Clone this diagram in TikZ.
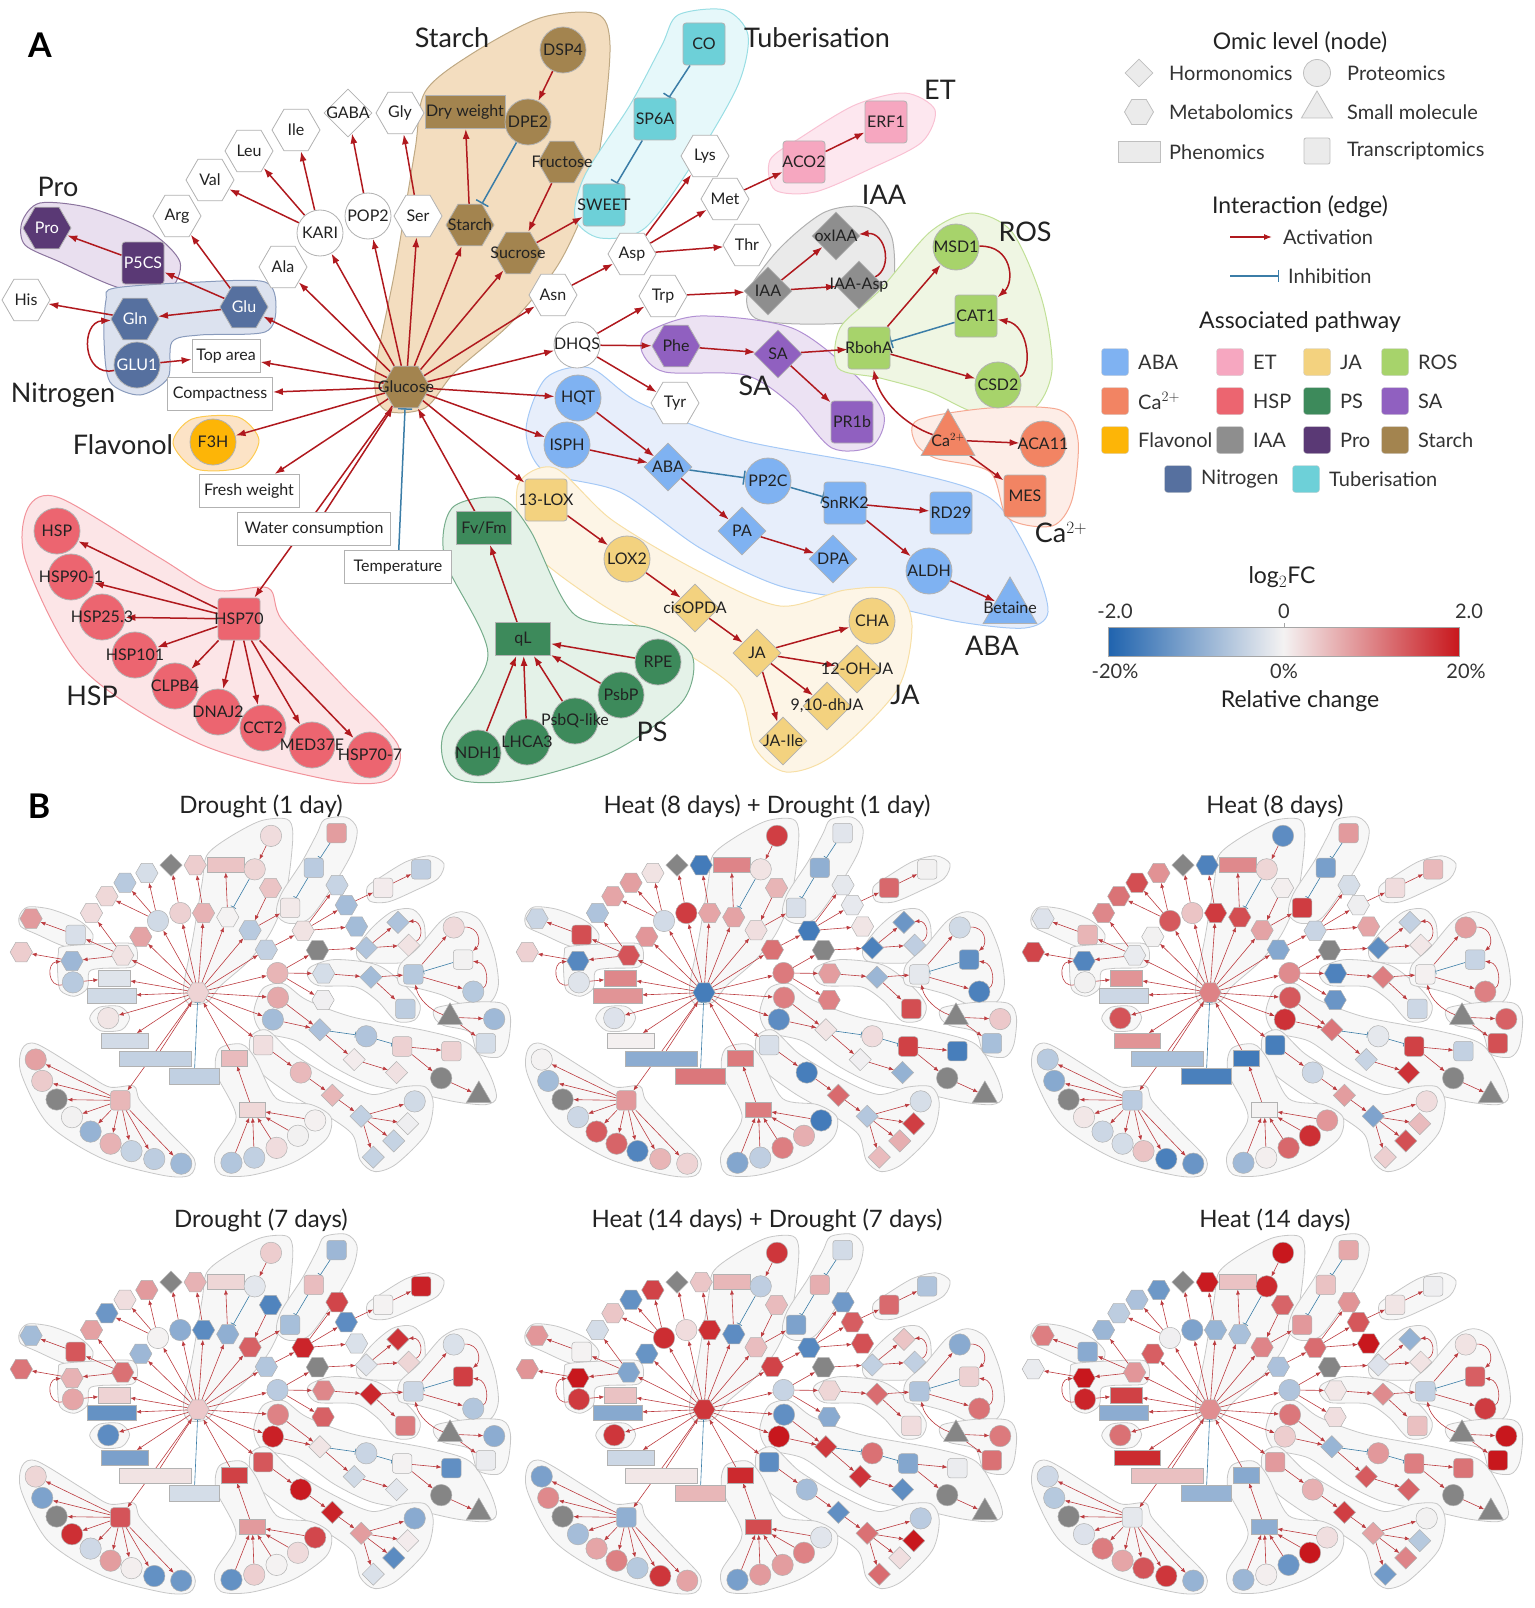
\documentclass[tikz,border=0pt]{standalone}
\usepackage{fontspec}
\setmainfont{Lato}
\usetikzlibrary{shapes.geometric,arrows.meta}

% pathway colours
\definecolor{cABA}{HTML}{7FB2F2}
\definecolor{cET}{HTML}{F6A7C0}
\definecolor{cJA}{HTML}{F3D27F}
\definecolor{cROS}{HTML}{A7D36B}
\definecolor{cCa}{HTML}{F28463}
\definecolor{cHSP}{HTML}{EC6570}
\definecolor{cPS}{HTML}{3D8A5B}
\definecolor{cSA}{HTML}{9060C0}
\definecolor{cFla}{HTML}{FDB507}
\definecolor{cIAA}{HTML}{8E8E8E}
\definecolor{cPro}{HTML}{5A3975}
\definecolor{cSta}{HTML}{A3844F}
\definecolor{cNit}{HTML}{56709F}
\definecolor{cTub}{HTML}{6DD0D8}
\definecolor{cNone}{HTML}{FFFFFF}
% group backgrounds
\definecolor{bABA}{HTML}{E7EEFB}
\definecolor{bET}{HTML}{FDE7EF}
\definecolor{bJA}{HTML}{FDF5E6}
\definecolor{bROS}{HTML}{EFF6E3}
\definecolor{bCa}{HTML}{FDEDE7}
\definecolor{bHSP}{HTML}{FCE5E7}
\definecolor{bPS}{HTML}{E4F2E8}
\definecolor{bSA}{HTML}{ECE2F3}
\definecolor{bFla}{HTML}{FCE3C6}
\definecolor{bIAA}{HTML}{EAEAEA}
\definecolor{bPro}{HTML}{E9DFEF}
\definecolor{bSta}{HTML}{F3DDBF}
\definecolor{bNit}{HTML}{DCE2EF}
\definecolor{bTub}{HTML}{E6F8FA}
% edges, scale, text
\definecolor{actred}{HTML}{B0191E}
\definecolor{inhblue}{HTML}{3B7DA7}
\definecolor{cbblue}{HTML}{1F63AE}
\definecolor{cbred}{HTML}{C8171D}
\definecolor{cbmid}{HTML}{F4F2F2}
\definecolor{tk}{HTML}{222222}
\colorlet{tw}{white}

\pgfdeclarelayer{blob}
\pgfdeclarelayer{edge}
\pgfsetlayers{blob,edge,main}

\tikzset{
  nd/.style={draw=black!30, line width=0.8pt, inner sep=0pt},
  hexn/.style={regular polygon, regular polygon sides=6, minimum size=48pt},
  cirn/.style={circle, minimum size=46pt},
  sqn/.style={rectangle, rounded corners=3pt, minimum size=42pt},
  diamn/.style={diamond, minimum size=48pt},
  trin/.style={regular polygon, regular polygon sides=3, minimum size=62pt},
  rectn/.style={rectangle, minimum height=33pt},
  lbl/.style={font=\fontsize{16}{16}\selectfont, inner sep=0pt},
  grp/.style={font=\fontsize{27}{27}\selectfont, text=tk, inner sep=0pt},
  act/.style={draw=actred, line width=1.5pt, -{Latex[length=10pt,width=7pt]}},
  inh/.style={draw=inhblue, line width=1.5pt, -{Bar[width=14pt]}},
  blob/.style={fill=b#1, draw=c#1!70!white, line width=1pt},
  bnet/.style={
    nd/.style={draw=black!30, line width=0.5pt, inner sep=0pt},
    act/.style={draw=actred!85, line width=0.6pt, -{Latex[length=5pt,width=4pt]}},
    inh/.style={draw=inhblue, line width=0.6pt, -{Bar[width=6pt]}},
    blob/.style={fill=black!3, draw=black!22, line width=0.8pt}},
  lgh/.style={font=\fontsize{23}{23}\selectfont, text=tk},
  lgt/.style={font=\fontsize{20}{20}\selectfont, text=black!80, anchor=west, inner sep=0pt},
  lgi/.style={draw=black!25, fill=black!8, line width=0.8pt, inner sep=0pt},
  swatch/.style={draw=black!20, rounded corners=3pt, minimum size=27pt, inner sep=0pt},
  ttl/.style={font=\fontsize{24}{24}\selectfont, text=tk},
  pnl/.style={font=\fontsize{34}{34}\selectfont\bfseries},
}

\newcommand\fvfmlab{Fv/Fm}
\newcommand\dhjalab{9,10-dhJA}
\newcommand\calab{Ca$^{2+}$}

% name/x/y/shape/width/fill/text/label
\newcommand\netnodes{%
glc/406/387/hexn/0/cSta/tk/Glucose,
pro/47/228/hexn/0/cPro/tw/Pro,
p5cs/143/263/sqn/0/cPro/tw/P5CS,
his/26/300/hexn/0/cNone/tk/His,
gln/135/319/hexn/0/cNit/tw/Gln,
glu/244/307/hexn/0/cNit/tw/Glu,
glu1/137/365/cirn/0/cNit/tw/GLU1,
toparea/226/356/rectn/68/cNone/tk/Top area,
comp/220/394/rectn/105/cNone/tk/Compactness,
arg/177/216/hexn/0/cNone/tk/Arg,
val/210/180/hexn/0/cNone/tk/Val,
leu/249/151/hexn/0/cNone/tk/Leu,
ile/296/130/hexn/0/cNone/tk/Ile,
gaba/348/113/diamn/0/cNone/tk/GABA,
gly/400/113/hexn/0/cNone/tk/Gly,
kari/320/233/cirn/0/cNone/tk/KARI,
pop2/368/216/cirn/0/cNone/tk/POP2,
ser/418/216/hexn/0/cNone/tk/Ser,
ala/283/267/hexn/0/cNone/tk/Ala,
dryw/465/112/rectn/80/cSta/tk/Dry weight,
stch/470/225/hexn/0/cSta/tk/Starch,
sucr/518/253/hexn/0/cSta/tk/Sucrose,
fruc/562/162/hexn/0/cSta/tk/Fructose,
dpe2/528/122/cirn/0/cSta/tk/DPE2,
dsp4/563/50/cirn/0/cSta/tk/DSP4,
sweet/604/205/sqn/0/cTub/tk/SWEET,
sp6a/655/119/sqn/0/cTub/tk/SP6A,
co/704/44/sqn/0/cTub/tk/CO,
lys/705/156/hexn/0/cNone/tk/Lys,
met/725/199/hexn/0/cNone/tk/Met,
thr/747/245/hexn/0/cNone/tk/Thr,
asp/632/254/hexn/0/cNone/tk/Asp,
asn/553/295/hexn/0/cNone/tk/Asn,
trp/663/296/hexn/0/cNone/tk/Trp,
dhqs/577/345/cirn/0/cNone/tk/DHQS,
aco2/804/162/sqn/0/cET/tk/ACO2,
erf1/886/122/sqn/0/cET/tk/ERF1,
iaa/768/291/diamn/0/cIAA/tk/IAA,
oxiaa/836/236/diamn/0/cIAA/tk/oxIAA,
iaaasp/859/285/diamn/0/cIAA/tk/IAA-Asp,
phe/676/346/hexn/0/cSA/tk/Phe,
sa/778/354/diamn/0/cSA/tk/SA,
rboha/869/348/sqn/0/cROS/tk/RbohA,
pr1b/852/422/sqn/0/cSA/tk/PR1b,
msd1/956/247/cirn/0/cROS/tk/MSD1,
cat1/976/316/sqn/0/cROS/tk/CAT1,
csd2/998/385/cirn/0/cROS/tk/CSD2,
ca/948/440/trin/0/cCa/tk/\calab,
aca11/1043/444/cirn/0/cCa/tk/ACA11,
mes/1025/496/sqn/0/cCa/tk/MES,
tyr/675/403/hexn/0/cNone/tk/Tyr,
hqt/578/398/cirn/0/cABA/tk/HQT,
isph/567/445/cirn/0/cABA/tk/ISPH,
aba/668/467/diamn/0/cABA/tk/ABA,
pp2c/768/481/cirn/0/cABA/tk/PP2C,
snrk2/845/503/sqn/0/cABA/tk/SnRK2,
pa/742/531/diamn/0/cABA/tk/PA,
dpa/833/559/diamn/0/cABA/tk/DPA,
rd29/951/513/sqn/0/cABA/tk/RD29,
aldh/929/571/cirn/0/cABA/tk/ALDH,
bet/1010/608/trin/0/cABA/tk/Betaine,
lox13/546/500/sqn/0/cJA/tk/13-LOX,
lox2/627/559/cirn/0/cJA/tk/LOX2,
opda/695/608/diamn/0/cJA/tk/cisOPDA,
ja/757/653/diamn/0/cJA/tk/JA,
cha/872/621/cirn/0/cJA/tk/CHA,
ohja/857/669/diamn/0/cJA/tk/12-OH-JA,
dhja/827/706/diamn/0/cJA/tk/\dhjalab,
jaile/783/741/diamn/0/cJA/tk/JA-Ile,
f3h/213/442/cirn/0/cFla/tk/F3H,
frw/249/491/rectn/100/cNone/tk/Fresh weight,
wat/314/529/rectn/153/cNone/tk/Water consumption,
temp/398/567/rectn/107/cNone/tk/Temperature,
fvfm/484/528/rectn/55/cPS/tk/\fvfmlab,
ql/523/639/rectn/55/cPS/tk/qL,
rpe/658/662/cirn/0/cPS/tk/RPE,
psbp/621/695/cirn/0/cPS/tk/PsbP,
psbq/575/721/cirn/0/cPS/tk/PsbQ-like,
lhca3/527/742/cirn/0/cPS/tk/LHCA3,
ndh1/478/753/cirn/0/cPS/tk/NDH1,
hsp/57/531/cirn/0/cHSP/tk/HSP,
hsp901/71/577/cirn/0/cHSP/tk/HSP90-1,
hsp253/102/617/cirn/0/cHSP/tk/HSP25.3,
hsp101/135/655/cirn/0/cHSP/tk/HSP101,
clpb4/175/686/cirn/0/cHSP/tk/CLPB4,
dnaj2/218/712/cirn/0/cHSP/tk/DNAJ2,
cct2/263/728/cirn/0/cHSP/tk/CCT2,
med37e/312/745/cirn/0/cHSP/tk/MED37E,
hsp707/370/755/cirn/0/cHSP/tk/HSP70-7,
hsp70/239/619/sqn/0/cHSP/tk/HSP70}

\newcommand\netacts{%
glc/ala, glc/kari, glc/pop2, glc/ser, glc/stch, glc/glu, glc/toparea,
glc/comp, glc/f3h, glc/frw, glc/hsp70, glc/sucr, glc/asn, glc/dhqs,
glc/hqt, glc/isph, glc/lox13, kari/val, kari/leu, kari/ile, pop2/gaba,
ser/gly, glu/arg, glu/p5cs, glu/gln, p5cs/pro, gln/his, glu1/toparea,
stch/dryw, dsp4/dpe2, fruc/sucr, sucr/sweet, asn/asp, asp/lys, asp/met,
asp/thr, met/aco2, aco2/erf1, dhqs/trp, dhqs/phe, dhqs/tyr, trp/iaa,
iaa/oxiaa, iaa/iaaasp, phe/sa, sa/rboha, sa/pr1b, rboha/msd1, rboha/csd2,
ca/aca11, ca/mes, hqt/aba, isph/aba, aba/pa, pa/dpa, snrk2/rd29,
snrk2/aldh, aldh/bet, lox13/lox2, lox2/opda, opda/ja, ja/cha, ja/ohja,
ja/dhja, ja/jaile, ql/fvfm, rpe/ql, psbp/ql, psbq/ql, lhca3/ql, ndh1/ql,
hsp70/hsp, hsp70/hsp901, hsp70/hsp253, hsp70/hsp101, hsp70/clpb4,
hsp70/dnaj2, hsp70/cct2, hsp70/med37e, hsp70/hsp707, fvfm/glc, wat/glc}

\newcommand\netinhs{%
dpe2/stch, co/sp6a, sp6a/sweet, cat1/rboha, aba/pp2c, pp2c/snrk2, temp/glc}

% nodes with no measurement in panel B
\foreach \g in {trp,gaba,ca,bet,hsp253,aldh}{\expandafter\gdef\csname gray@\g\endcsname{}}

\newcommand\netblobs{%
  \draw[blob=Pro] plot[smooth cycle] coordinates {(22,222) (40,203) (90,208) (150,232) (180,262) (168,290) (120,288) (60,262) (25,245)};
  \draw[blob=Nit] plot[smooth cycle] coordinates {(115,288) (200,282) (265,282) (276,307) (265,332) (200,335) (172,342) (168,378) (140,395) (110,382) (104,340) (106,300)};
  \draw[blob=Sta] plot[smooth cycle] coordinates {(425,92) (470,55) (540,18) (597,14) (610,45) (602,135) (588,200) (558,265) (512,322) (455,372) (425,408) (385,410) (375,375) (395,270) (415,150)};
  \draw[blob=Tub] plot[smooth cycle] coordinates {(678,15) (725,10) (748,35) (738,85) (695,160) (645,228) (600,238) (575,218) (585,175) (630,105) (662,45)};
  \draw[blob=ET] plot[smooth cycle] coordinates {(770,160) (800,138) (855,105) (905,93) (935,110) (922,142) (872,168) (815,192) (775,190)};
  \draw[blob=IAA] plot[smooth cycle] coordinates {(748,292) (780,248) (825,212) (868,208) (892,238) (892,292) (865,320) (800,324) (755,318)};
  \draw[blob=ABA] plot[smooth cycle] coordinates {(546,378) (590,368) (640,403) (740,440) (900,470) (990,498) (1032,560) (1048,612) (1025,628) (960,622) (870,602) (780,586) (700,548) (620,492) (545,472) (526,430)};
  \draw[blob=SA] plot[smooth cycle] coordinates {(648,332) (700,316) (792,328) (855,375) (884,415) (872,446) (832,448) (792,405) (745,375) (665,372) (642,352)};
  \draw[blob=ROS] plot[smooth cycle] coordinates {(840,328) (880,290) (930,232) (972,213) (1012,232) (1042,300) (1052,370) (1032,410) (980,414) (930,392) (880,378) (838,368)};
  \draw[blob=Ca] plot[smooth cycle] coordinates {(918,420) (990,408) (1060,410) (1078,440) (1072,500) (1052,526) (1008,518) (990,472) (935,458) (915,442)};
  \draw[blob=JA] plot[smooth cycle] coordinates {(518,485) (555,468) (612,520) (700,572) (780,606) (845,590) (895,590) (912,625) (897,690) (832,756) (786,772) (755,748) (738,692) (678,648) (598,602) (528,546)};
  \draw[blob=PS] plot[smooth cycle] coordinates {(452,508) (500,498) (530,530) (575,615) (650,628) (692,655) (682,702) (612,752) (520,780) (455,778) (443,735) (488,655) (445,560)};
  \draw[blob=HSP] plot[smooth cycle] coordinates {(28,508) (60,498) (160,558) (215,590) (268,588) (282,620) (342,685) (398,745) (388,780) (330,780) (200,744) (84,670) (26,562)};
  \draw[blob=Fla] plot[smooth cycle] coordinates {(173,443) (192,419) (238,417) (259,440) (242,467) (196,469)};
}

% #1 = 1: labelled pathway colours, 0: fold-change colours
\newcommand\netdraw[1]{%
  \begin{pgfonlayer}{blob}
    \netblobs
  \end{pgfonlayer}
  \foreach \nm/\x/\y/\shp/\w/\col/\tc/\lab in \netnodes {
    \ifnum#1=1
      \colorlet{nodefill}{\col}
    \else
      \ifcsname gray@\nm\endcsname
        \colorlet{nodefill}{black!48}
      \else
        \pgfmathsetmacro\nval{max(-1,min(1,\nbias+\nspread*(2*rnd-1)))}
        \pgfmathtruncatemacro\pct{abs(\nval)*100}
        \ifdim\nval pt<0pt
          \colorlet{nodefill}{cbblue!\pct!cbmid}
        \else
          \colorlet{nodefill}{cbred!\pct!cbmid}
        \fi
      \fi
    \fi
    \node[nd, minimum width=\w, \shp, fill=nodefill] (\nm) at (\x,\y) {};
    \ifnum#1=1
      \node[lbl, text=\tc] at (\nm) {\lab};
    \fi
  }
  \begin{pgfonlayer}{edge}
    \foreach \src/\dst in \netacts {\draw[act] (\src) -- (\dst);}
    \foreach \src/\dst in \netinhs {\draw[inh] (\src) -- (\dst);}
    \draw[act] (glu1) .. controls (82,378) and (80,322) .. (gln);
    \draw[act] (iaaasp) .. controls (893,268) and (886,232) .. (oxiaa);
    \draw[act] (msd1) .. controls (1012,245) and (1015,282) .. (cat1);
    \draw[act] (csd2) .. controls (1032,372) and (1030,325) .. (cat1);
    \draw[act] (ca) .. controls (905,425) and (880,400) .. (rboha);
  \end{pgfonlayer}
}

\begin{document}
\begin{tikzpicture}[x=1pt, y=-1pt]
  \useasboundingbox (0,0) rectangle (1534,1608);

  % panel A
  \node[pnl] (labA) at (40,45) {A};
  \netdraw{1}
  \node[grp] (gSta) at (452,38) {Starch};
  \node[grp] (gTub) at (817,38) {Tuberisation};
  \node[grp] (gET) at (940,90) {ET};
  \node[grp] (gIAA) at (884,195) {IAA};
  \node[grp] (gROS) at (1025,232) {ROS};
  \node[grp] (gPro) at (58,187) {Pro};
  \node[grp] (gNit) at (63,395) {Nitrogen};
  \node[grp] (gFla) at (123,445) {Flavonol};
  \node[grp] (gHSP) at (92,696) {HSP};
  \node[grp] (gPS) at (652,732) {PS};
  \node[grp] (gJA) at (905,695) {JA};
  \node[grp] (gSA) at (755,386) {SA};
  \node[grp] (gABA) at (992,646) {ABA};
  \node[grp] (gCa) at (1061,533) {Ca$^{2+}$};

  % legend: omic level
  \node[lgh] (hOmic) at (1300,42) {Omic level (node)};
  \node[lgi, diamond, minimum size=28pt] (iHorm) at (1139,73) {};
  \node[lgt] (tHorm) at (1169,73) {Hormonomics};
  \node[lgi, circle, minimum size=27pt] (iProt) at (1317,73) {};
  \node[lgt] (tProt) at (1347,73) {Proteomics};
  \node[lgi, regular polygon, regular polygon sides=6, minimum size=29pt] (iMeta) at (1139,112) {};
  \node[lgt] (tMeta) at (1169,112) {Metabolomics};
  \node[lgi, regular polygon, regular polygon sides=3, minimum size=36pt] (iSmall) at (1317,109) {};
  \node[lgt] (tSmall) at (1347,112) {Small molecule};
  \node[lgi, rectangle, minimum width=42pt, minimum height=21pt] (iPhen) at (1139,152) {};
  \node[lgt] (tPhen) at (1169,152) {Phenomics};
  \node[lgi, rectangle, rounded corners=2pt, minimum size=26pt] (iTran) at (1317,151) {};
  \node[lgt] (tTran) at (1347,151) {Transcriptomics};

  % legend: edges
  \node[lgh] (hEdge) at (1300,207) {Interaction (edge)};
  \coordinate (actA) at (1230,237);
  \coordinate (actB) at (1272,237);
  \draw[act, line width=1.2pt, -{Latex[length=8pt,width=6pt]}] (actA) -- (actB);
  \node[lgt] (tAct) at (1283,237) {Activation};
  \coordinate (inhA) at (1230,276);
  \coordinate (inhB) at (1279,276);
  \draw[inh, line width=1.2pt, -{Bar[width=12pt]}] (inhA) -- (inhB);
  \node[lgt] (tInh) at (1288,276) {Inhibition};

  % legend: pathways
  \node[lgh] (hPath) at (1300,322) {Associated pathway};
  \foreach \sx/\sy/\sc/\st in {1115/362/cABA/ABA, 1230/362/cET/ET, 1317/362/cJA/JA,
      1395/362/cROS/ROS, 1115/401/cCa/\calab, 1230/401/cHSP/HSP, 1317/401/cPS/PS,
      1395/401/cSA/SA, 1115/440/cFla/Flavonol, 1230/440/cIAA/IAA, 1317/440/cPro/Pro,
      1395/440/cSta/Starch, 1178/479/cNit/Nitrogen, 1306/479/cTub/Tuberisation} {
    \node[swatch, fill=\sc] at (\sx,\sy) {};
    \node[lgt] at (\sx+23,\sy) {\st};
  }

  % legend: colour scale
  \node[lgh] (hFC) at (1282,577) {log$_2$FC};
  \shade[left color=cbblue, right color=cbred, middle color=cbmid] (1108,627) rectangle (1459,656);
  \draw[black!35, line width=0.8pt] (1108,627) rectangle (1459,656);
  \draw[black!35, line width=0.8pt] (1284,623) -- (1284,627);
  \node[lgt, anchor=center] (sMin) at (1115,611) {-2.0};
  \node[lgt, anchor=center] (sZero) at (1284,611) {0};
  \node[lgt, anchor=center] (sMax) at (1469,611) {2.0};
  \node[lgt, anchor=center] (pMin) at (1115,671) {-20\%};
  \node[lgt, anchor=center] (pZero) at (1284,671) {0\%};
  \node[lgt, anchor=center] (pMax) at (1466,671) {20\%};
  \node[lgh] (hRel) at (1300,701) {Relative change};

  % panel B
  \node[pnl] (labB) at (39,806) {B};
  \node[ttl] at (261,806) {Drought (1 day)};
  \node[ttl] at (767,806) {Heat (8 days) + Drought (1 day)};
  \node[ttl] at (1275,806) {Heat (8 days)};
  \node[ttl] at (261,1220) {Drought (7 days)};
  \node[ttl] at (767,1220) {Heat (14 days) + Drought (7 days)};
  \node[ttl] at (1275,1220) {Heat (14 days)};

  \foreach \ci/\ri/\sd/\bs/\sp in {0/0/11/0.0/0.45, 1/0/23/0.0/0.85, 2/0/37/0.05/0.9,
      0/1/41/0.12/0.9, 1/1/53/0.15/0.9, 2/1/67/0.2/0.9} {
    \begin{scope}[shift={(9.2+506*\ci, 812.6+417*\ri)}, scale=0.465, transform shape, bnet]
      \pgfmathsetseed{\sd}
      \def\nbias{\bs}
      \def\nspread{\sp}
      \netdraw{0}
    \end{scope}
  }
\end{tikzpicture}
\end{document}
